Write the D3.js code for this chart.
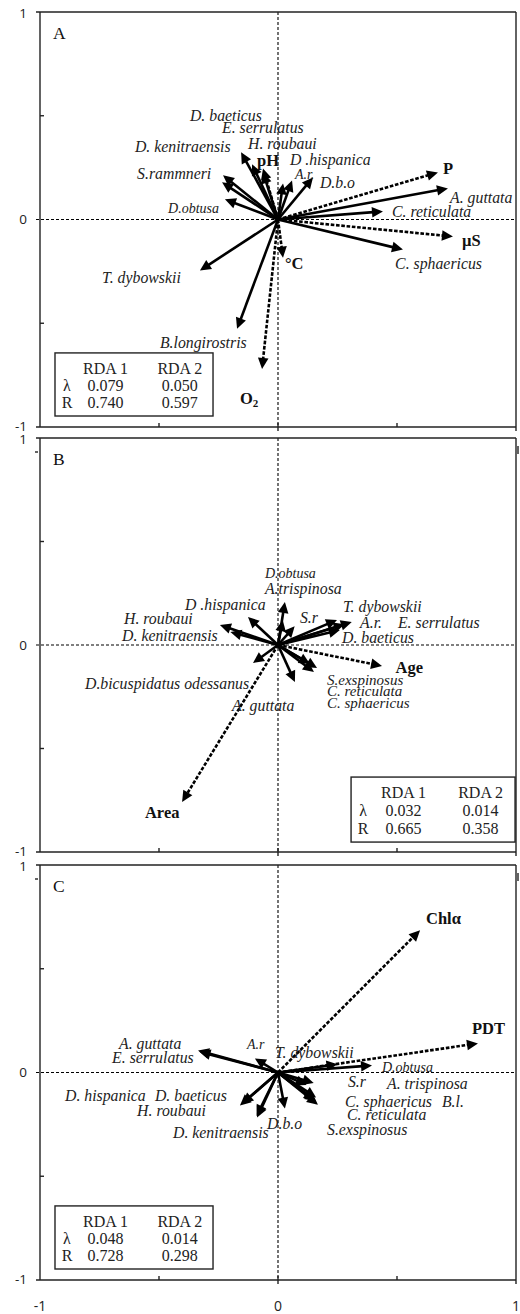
<!DOCTYPE html>
<html>
<head>
<meta charset="utf-8">
<script src="https://cdn.jsdelivr.net/npm/d3@7"></script>
<style>
  body { margin: 0; background: #fff; }
  svg { display: block; }
</style>
</head>
<body>
<svg id="chart" width="520" height="1314"></svg>
<script>
// ---------- Panel A : species & environmental vectors ----------
const namesA = ["D. baeticus","E. serrulatus","H. roubaui","D. kenitraensis","S.rammneri","D.obtusa",
  "D .hispanica","A.r.","D.b.o","A. guttata","C. reticulata","C. sphaericus","T. dybowskii","B.longirostris",
  "P","µS","°C","O2","pH"];
const rda1A = [-0.155,-0.109,-0.063,-0.231,-0.235,-0.223, 0.059,0.021,0.147,0.714,0.441,0.525,-0.328,-0.172,
  0.672,0.735,0.021,-0.067,-0.063];
const rda2A = [0.324,0.266,0.227,0.213,0.179,0.097, 0.188,0.174,0.203,0.150,0.039,-0.145,-0.246,-0.527,
  0.227,-0.082,-0.184,-0.720,0.246];
const envA = ["P","µS","°C","O2","pH"];
const eigA = [0.079, 0.050];
const corA = [0.740, 0.597];

// ---------- Panel B ----------
const namesB = ["D.obtusa","A.trispinosa","S.r","T. dybowskii","A.r.","E. serrulatus","D. baeticus",
  "D .hispanica","H. roubaui","D. kenitraensis","D.bicuspidatus odessanus","A. guttata",
  "S.exspinosus","C. reticulata","C. sphaericus","Age","Area"];
const rda1B = [0.029,0.020,0.070,0.248,0.310,0.280,0.260,-0.126,-0.244,-0.200,-0.105,0.071,0.164,0.151,0.134,0.437,-0.403];
const rda2B = [0.208,0.120,0.090,0.121,0.111,0.100,0.072,0.135,0.097,0.063,-0.087,-0.179,-0.111,-0.130,-0.092,-0.101,-0.758];
const envB = ["Age","Area"];
const eigB = [0.032, 0.014];
const corB = [0.665, 0.358];

// ---------- Panel C ----------
const namesC = ["D.obtusa","T. dybowskii","A. guttata","E. serrulatus","A.r","D. hispanica","D. baeticus",
  "H. roubaui","D. kenitraensis","D.b.o","S.r","A. trispinosa","C. sphaericus","B.l.","C. reticulata",
  "S.exspinosus","Chlα","PDT"];
const rda1C = [0.395,0.250,-0.336,-0.330,-0.097,-0.160,-0.150,-0.088,-0.090,0.029,0.120,0.150,0.155,0.160,0.160,0.168,0.597,0.840];
const rda2C = [0.034,0.040,0.106,0.100,0.068,-0.159,-0.150,-0.217,-0.210,-0.174,-0.060,-0.050,-0.135,-0.120,-0.140,-0.155,0.686,0.140];
const envC = ["Chlα","PDT"];
const eigC = [0.048, 0.014];
const corC = [0.728, 0.298];

// Label placement (axis units): text, x, y, style (i = italic species, b = bold variable, s = small italic)
const labelsA = [
  ["D. baeticus",-0.370,0.502,"i"],["E. serrulatus",-0.235,0.444,"i"],["H. roubaui",-0.126,0.367,"i"],
  ["D. kenitraensis",-0.601,0.353,"i"],["S.rammneri",-0.592,0.222,"i"],["pH",-0.088,0.285,"b"],
  ["D .hispanica",0.050,0.287,"i"],["A.r.",0.071,0.219,"s"],["D.b.o",0.176,0.179,"i"],
  ["P",0.693,0.246,"b"],["A. guttata",0.723,0.106,"i"],["C. reticulata",0.479,0.039,"i"],
  ["D.obtusa",-0.462,0.053,"s"],["µS",0.773,-0.101,"b"],["°C",0.029,-0.213,"b"],
  ["C. sphaericus",0.492,-0.213,"i"],["T. dybowskii",-0.739,-0.280,"i"],["B.longirostris",-0.496,-0.594,"i"],
  ["O2",-0.160,-0.860,"b"]
];
const labelsB = [
  ["D.obtusa",-0.055,0.348,"s"],["A.trispinosa",-0.055,0.275,"i"],["S.r",0.092,0.135,"i"],
  ["T. dybowskii",0.273,0.188,"i"],["A.r.",0.345,0.111,"i"],["E. serrulatus",0.504,0.111,"i"],
  ["D. baeticus",0.269,0.034,"i"],["D .hispanica",-0.391,0.198,"i"],["H. roubaui",-0.647,0.126,"i"],
  ["D. kenitraensis",-0.655,0.048,"i"],["D.bicuspidatus odessanus",-0.811,-0.184,"i"],
  ["A. guttata",-0.193,-0.290,"i"],["S.exspinosus",0.206,-0.166,"t"],["C. reticulata",0.206,-0.222,"t"],
  ["C. sphaericus",0.206,-0.281,"t"],["Age",0.494,-0.108,"b"],["Area",-0.559,-0.807,"b"]
];
const labelsC = [
  ["Chlα",0.622,0.744,"b"],["PDT",0.815,0.213,"b"],["T. dybowskii",-0.013,0.097,"i"],
  ["D.obtusa",0.437,0.024,"s"],["A. guttata",-0.668,0.140,"i"],["E. serrulatus",-0.697,0.072,"i"],
  ["A.r",-0.130,0.135,"s"],["D. hispanica",-0.895,-0.111,"i"],["D. baeticus",-0.517,-0.111,"i"],
  ["H. roubaui",-0.592,-0.184,"i"],["D. kenitraensis",-0.441,-0.290,"i"],["D.b.o",-0.046,-0.246,"i"],
  ["S.r",0.294,-0.043,"i"],["A. trispinosa",0.458,-0.053,"i"],["C. sphaericus",0.282,-0.140,"i"],
  ["B.l.",0.689,-0.140,"i"],["C. reticulata",0.290,-0.203,"i"],["S.exspinosus",0.206,-0.275,"i"]
];

// Statistics box placement (axis units: left, top, right, bottom)
const boxA = [-0.937,-0.643,-0.273,-0.947];
const boxB = [0.307,-0.638,0.996,-0.952];
const boxC = [-0.937,-0.643,-0.273,-0.947];

const panels = [
  { tag:"A", names:namesA, x:rda1A, y:rda2A, env:envA, eig:eigA, cor:corA, labels:labelsA, box:boxA, top:12,  bottom:427, nub:false },
  { tag:"B", names:namesB, x:rda1B, y:rda2B, env:envB, eig:eigB, cor:corB, labels:labelsB, box:boxB, top:438, bottom:852, nub:true },
  { tag:"C", names:namesC, x:rda1C, y:rda2C, env:envC, eig:eigC, cor:corC, labels:labelsC, box:boxC, top:865, bottom:1280, nub:true }
];

const svg = d3.select("#chart");
const serif = "'Liberation Serif','Times New Roman',serif";
const sans = "'Open Sans','Noto Sans',sans-serif";
const x = d3.scaleLinear().domain([-1, 1]).range([40, 516]);

function drawArrow(g, x0, y0, x1, y1, dashed) {
  const ang = Math.atan2(y1 - y0, x1 - x0);
  const L = 11, W = 5.3;
  const len = Math.hypot(x1 - x0, y1 - y0);
  const bx = x1 - L * Math.cos(ang), by = y1 - L * Math.sin(ang);
  if (len > L) {
    g.append("line")
      .attr("x1", x0).attr("y1", y0).attr("x2", bx + 1.5 * Math.cos(ang)).attr("y2", by + 1.5 * Math.sin(ang))
      .attr("stroke", "#000").attr("stroke-width", 2.6)
      .attr("stroke-dasharray", dashed ? "3.6,1.7" : null);
  }
  const px = -Math.sin(ang) * W, py = Math.cos(ang) * W;
  g.append("polygon")
    .attr("points", [[x1, y1], [bx + px, by + py], [bx - px, by - py]].map(p => p.join(",")).join(" "))
    .attr("fill", "#000");
}

panels.forEach(p => {
  const y = d3.scaleLinear().domain([-1, 1]).range([p.bottom, p.top]);
  const g = svg.append("g");
  const x0 = x(0), y0 = y(0);

  // zero reference lines
  g.append("line").attr("x1", 36).attr("x2", x(1)).attr("y1", y0).attr("y2", y0)
    .attr("stroke", "#000").attr("stroke-width", 1.1).attr("stroke-dasharray", "3,2");
  g.append("line").attr("x1", x0).attr("x2", x0).attr("y1", y(1)).attr("y2", y(-1))
    .attr("stroke", "#000").attr("stroke-width", 1.1).attr("stroke-dasharray", "3,2");

  // frame
  const fr = g.append("g").attr("stroke", "#222").attr("stroke-width", 1.4).attr("fill", "none");
  fr.append("line").attr("x1", 36).attr("x2", x(1)).attr("y1", y(1)).attr("y2", y(1));
  fr.append("line").attr("x1", 36).attr("x2", x(1)).attr("y1", y(-1)).attr("y2", y(-1));
  fr.append("line").attr("x1", x(-1)).attr("x2", x(-1)).attr("y1", y(1)).attr("y2", y(-1));
  fr.append("line").attr("x1", x(1)).attr("x2", x(1)).attr("y1", y(1)).attr("y2", y(-1) + 4);
  [-0.5, 0.5].forEach(v => {
    fr.append("line").attr("x1", x(-1)).attr("x2", x(-1) + 4).attr("y1", y(v)).attr("y2", y(v));
    fr.append("line").attr("x1", x(v)).attr("x2", x(v)).attr("y1", y(-1) - 4).attr("y2", y(-1));
  });
  fr.append("line").attr("x1", x0).attr("x2", x0).attr("y1", y(-1) - 4).attr("y2", y(-1) + 4);
  if (p.nub) {
    fr.append("line").attr("x1", 35).attr("x2", 38).attr("y1", y(1) + 14).attr("y2", y(1) + 14);
    fr.append("line").attr("x1", x(1) + 2).attr("x2", x(1) + 2).attr("y1", y(1) + 8).attr("y2", y(1) + 16);
  }

  // y tick labels
  g.selectAll("text.yt").data([1, 0, -1]).join("text")
    .attr("x", 27).attr("y", d => y(d) + (d === 1 ? 1 : d === -1 ? -1 : 0)).attr("dy", "0.36em")
    .attr("text-anchor", "end").attr("font-family", sans).attr("font-size", 13.5).attr("fill", "#222")
    .text(d => d);

  // panel tag
  g.append("text").attr("x", 53).attr("y", y(1) + 27)
    .attr("font-family", serif).attr("font-size", 17.5).attr("fill", "#111").text(p.tag);

  // vectors
  p.names.forEach((n, i) => {
    drawArrow(g, x0, y0, x(p.x[i]), y(p.y[i]), p.env.includes(n));
  });

  // labels
  const sizes = { i: 15.8, s: 14, t: 15 };
  p.labels.forEach(([t, lx, ly, st]) => {
    const txt = g.append("text").attr("x", x(lx)).attr("y", y(ly)).attr("dy", "0.35em")
      .attr("font-family", serif).attr("fill", "#111");
    if (st === "b") {
      txt.attr("font-weight", "bold").attr("font-size", 16.5);
      if (t === "O2") {
        txt.text("O");
        txt.append("tspan").attr("font-size", 11).attr("dy", "0.3em").text("2");
      } else txt.text(t);
    } else {
      txt.attr("font-style", "italic").attr("font-size", sizes[st]).attr("fill", "#222").text(t);
    }
  });

  // statistics box
  const [bl, bt, br, bb] = p.box;
  const bx0 = x(bl), by0 = y(bt), bx1 = x(br), by1 = y(bb);
  g.append("rect").attr("x", bx0).attr("y", by0).attr("width", bx1 - bx0).attr("height", by1 - by0)
    .attr("fill", "#fff").attr("stroke", "#222").attr("stroke-width", 1.4);
  const w = bx1 - bx0, h = by1 - by0;
  const colX = [bx0 + w * 0.32, bx0 + w * 0.79];
  const rowY = [by0 + h * 0.24, by0 + h * 0.52, by0 + h * 0.79];
  const st = g.append("g").attr("font-family", serif).attr("font-size", 16).attr("fill", "#222")
    .attr("text-anchor", "middle");
  ["RDA 1", "RDA 2"].forEach((t, k) => st.append("text").attr("x", colX[k]).attr("y", rowY[0]).attr("dy", "0.35em").text(t));
  st.append("text").attr("x", bx0 + 12).attr("y", rowY[1]).attr("dy", "0.35em").text("λ");
  st.append("text").attr("x", bx0 + 12).attr("y", rowY[2]).attr("dy", "0.35em").text("R");
  p.eig.forEach((v, k) => st.append("text").attr("x", colX[k]).attr("y", rowY[1]).attr("dy", "0.35em").text(v.toFixed(3)));
  p.cor.forEach((v, k) => st.append("text").attr("x", colX[k]).attr("y", rowY[2]).attr("dy", "0.35em").text(v.toFixed(3)));
});

// shared x tick labels
svg.selectAll("text.xt").data([-1, 0, 1]).join("text")
  .attr("x", d => x(d)).attr("y", 1306).attr("dy", "0.36em")
  .attr("text-anchor", "middle").attr("font-family", sans).attr("font-size", 14).attr("fill", "#222")
  .text(d => d);
</script>
</body>
</html>
